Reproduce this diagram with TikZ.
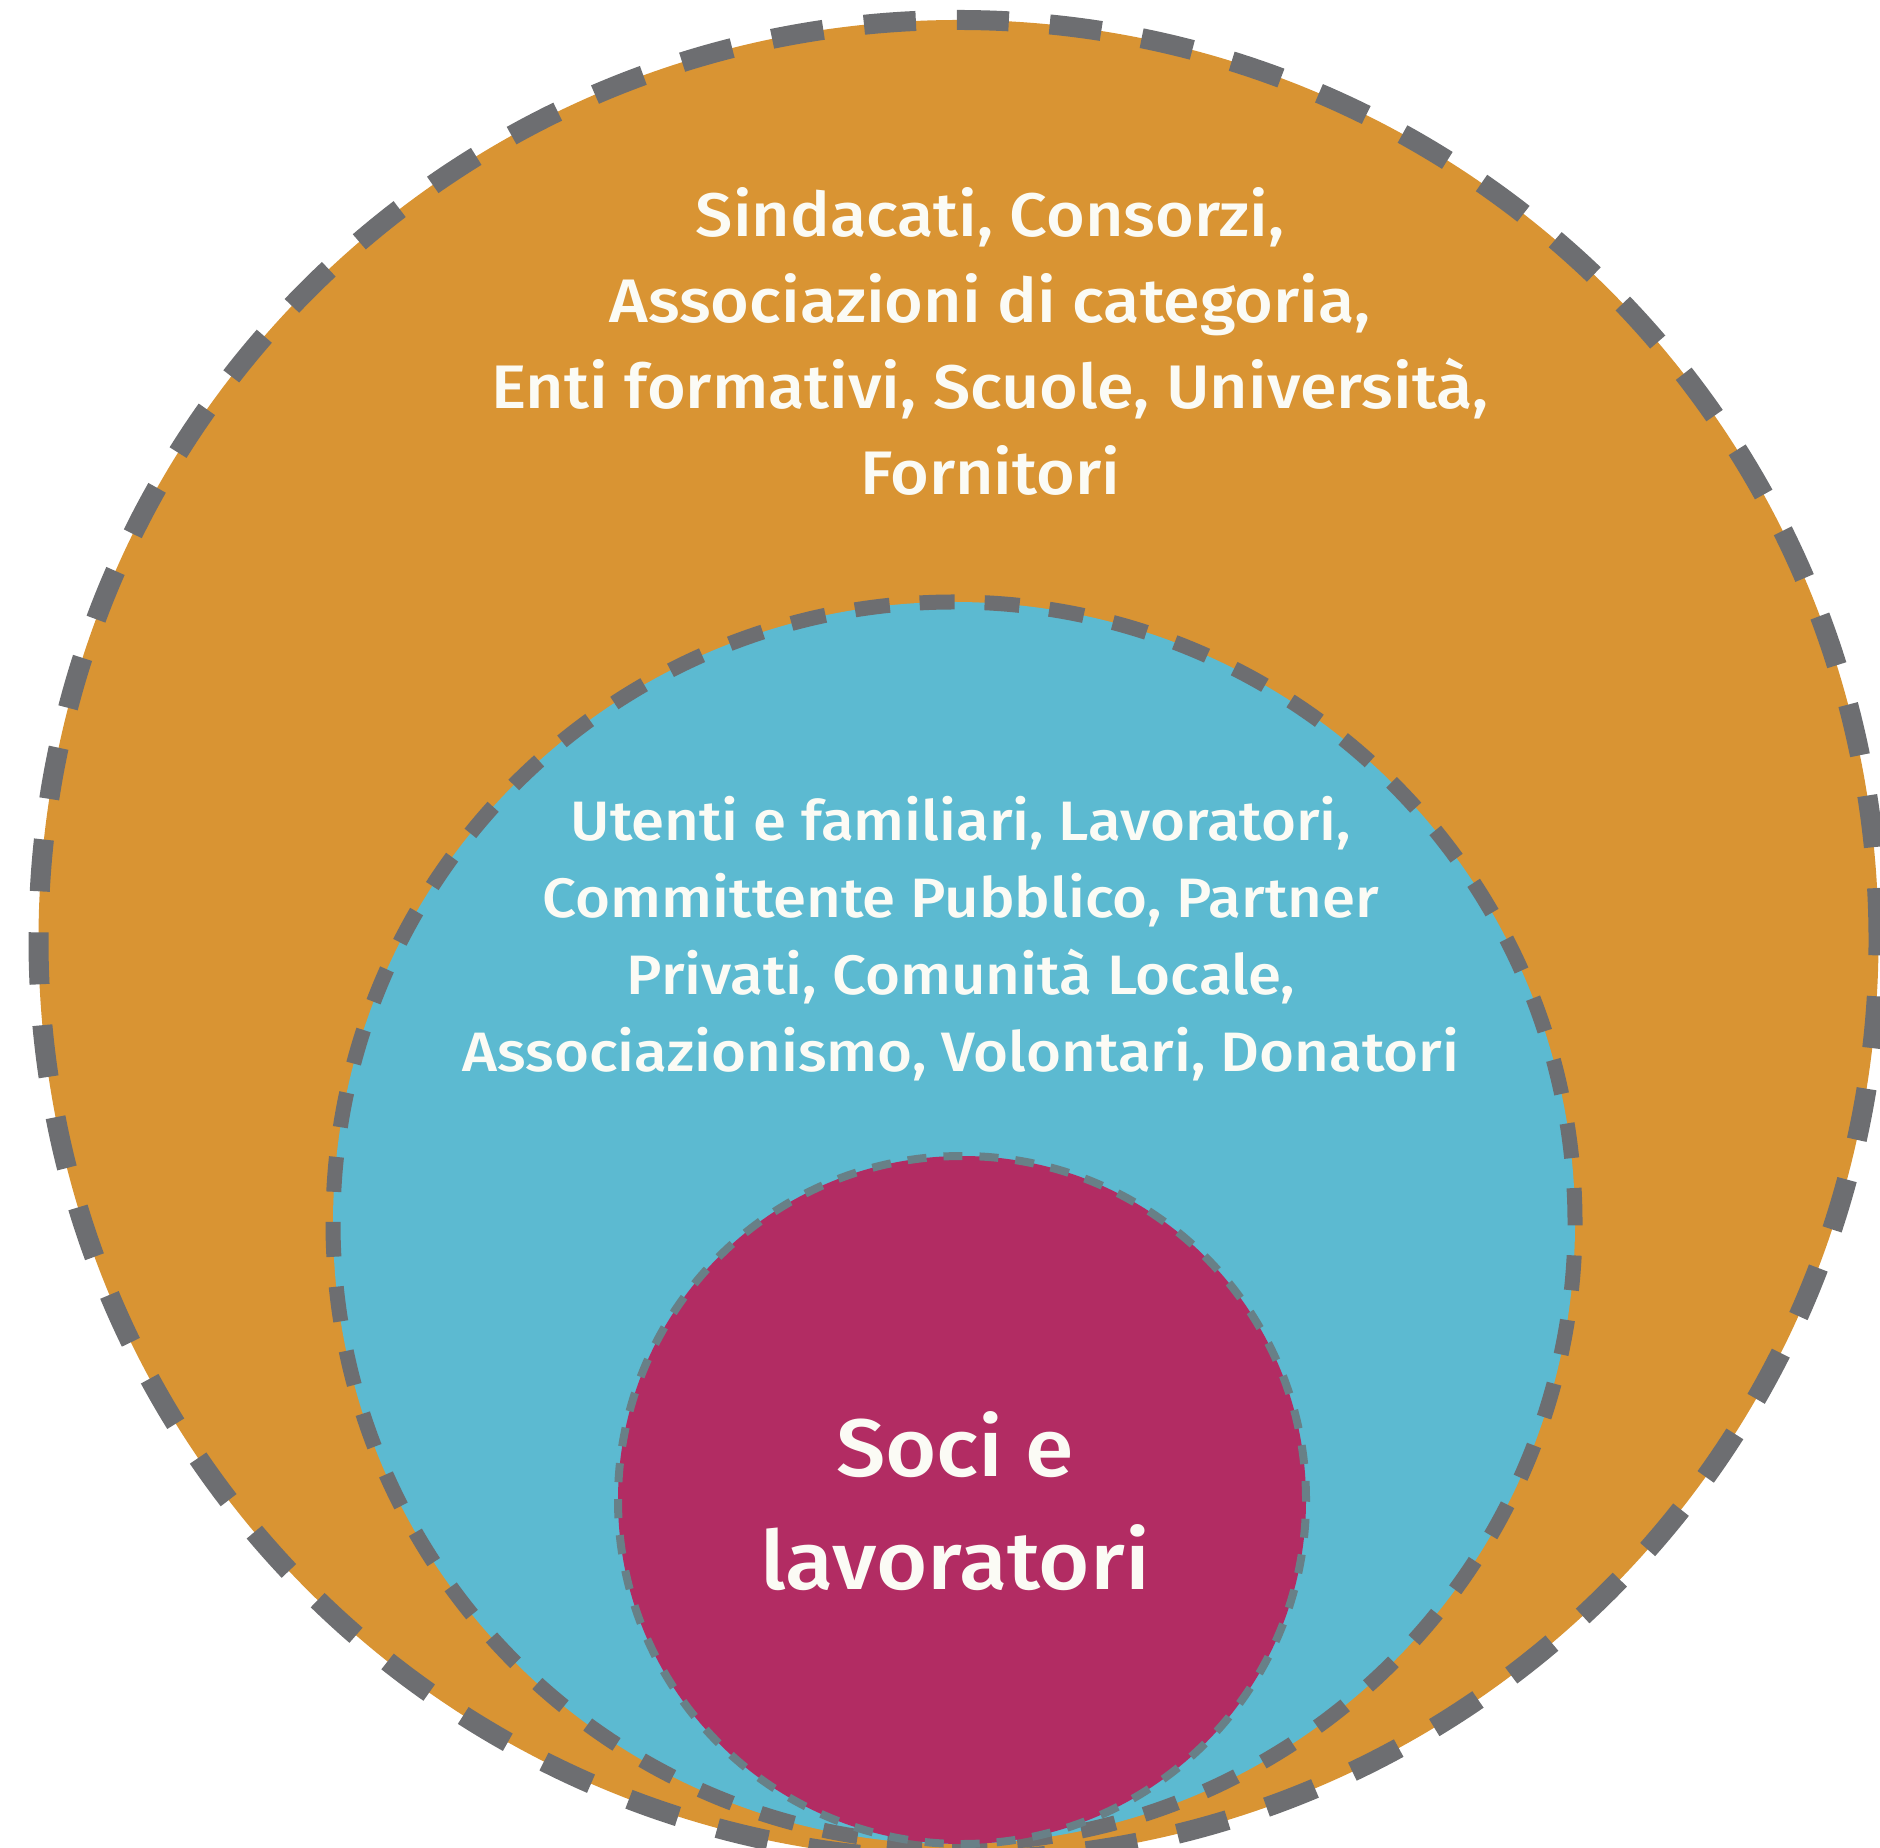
\documentclass[tikz,border=0pt]{standalone}
\usepackage{fontspec}
\setmainfont{Fira Sans}[UprightFont={* Medium}, FakeStretch=1.08]
\usepackage{xcolor}
\usetikzlibrary{positioning}

\definecolor{ringorange}{HTML}{D99433}
\definecolor{ringblue}{HTML}{5CBAD1}
\definecolor{ringred}{HTML}{B22C63}
\definecolor{dashgray}{HTML}{6D6E71}
\definecolor{dashteal}{HTML}{688087}
\definecolor{labelwhite}{HTML}{FBFBF5}

\begin{document}
\begin{tikzpicture}[
    outerring/.style={fill=ringorange, draw=dashgray, line width=2mm, dash pattern=on 5.2mm off 4.1mm},
    midring/.style={fill=ringblue, draw=dashgray, line width=1.5mm, dash pattern=on 3.5mm off 3mm},
    innerring/.style={fill=ringred, draw=dashteal, line width=0.8mm, dash pattern=on 1.9mm off 1.7mm},
    ringlabel/.style={align=center, text=labelwhite, inner sep=0pt, anchor=base}
  ]
    \useasboundingbox (0,0) rectangle (18.8,18.47);
    % three nested rings, all touching near the bottom
    \draw[outerring] (9.585,9.07) circle[radius=9.2];
    \draw[midring] (9.54,6.24) circle[radius=6.21];
    \draw[innerring] (9.62,3.47) circle[radius=3.44];
    % labels (base = last line)
    \node[ringlabel, font=\fontsize{17.5}{24.5}\selectfont] (outertext) at (9.90,13.52)
        {Sindacati, Consorzi,\\Associazioni di categoria,\\Enti formativi, Scuole, Università,\\Fornitori};
    \node[ringlabel, font=\fontsize{15.8}{21.9}\selectfont] (midtext) at (9.61,7.76)
        {Utenti e familiari, Lavoratori,\\Committente Pubblico, Partner\\Privati, Comunità Locale,\\Associazionismo, Volontari, Donatori};
    \node[ringlabel, font=\fontsize{23.2}{32.1}\selectfont] (innertext) at (9.55,2.58)
        {Soci e\\lavoratori};
\end{tikzpicture}
\end{document}
